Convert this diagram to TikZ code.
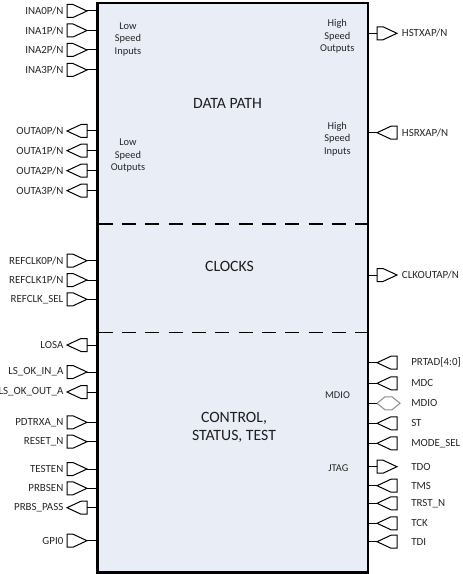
\documentclass[tikz,border=0pt]{standalone}
\usepackage{fontspec}
\setmainfont{Carlito}

\begin{document}
\begin{tikzpicture}[x=0.75pt,y=0.75pt,yscale=-1,xscale=1,
  chipbox/.style={draw=black,line width=2pt,fill={rgb,255:red,233;green,237;blue,246}},
  sepline/.style={line width=0.9pt,dash pattern=on 10.5pt off 7pt},
  pinshape/.style={draw=black,line width=0.75pt},
  pinline/.style={line width=0.75pt},
  lbl/.style={inner sep=0pt,text={rgb,255:red,38;green,38;blue,38},font=\fontsize{8.2}{10}\selectfont},
  sub/.style={inner sep=0pt,align=center,text={rgb,255:red,38;green,38;blue,38},font=\fontsize{7.8}{9.5}\selectfont},
  big/.style={inner sep=0pt,align=center,text={rgb,255:red,30;green,30;blue,30},font=\fontsize{11.8}{13.8}\selectfont},
  lbl sep/.store in=\lblsep, lbl sep=24.7,
  % pin pointing right, flat side on the left
  pics/lin/.style={code={
    \draw[pinshape] (0,-6.5) -- (6,-6.5) -- (20,0) -- (6,6.5) -- (0,6.5) -- cycle;
    \coordinate (-tip) at (20,0);
    \node[lbl,anchor=east] (-lbl) at (-3.4,0) {#1};}},
  % pin pointing left, flat side on the right
  pics/lout/.style={code={
    \draw[pinshape] (0,0) -- (14,-6.5) -- (20,-6.5) -- (20,6.5) -- (14,6.5) -- cycle;
    \coordinate (-tip) at (20,0);
    \node[lbl,anchor=east] (-lbl) at (-3.4,0) {#1};}},
  pics/rout/.style={code={
    \draw[pinshape] (0,-6.5) -- (6,-6.5) -- (20,0) -- (6,6.5) -- (0,6.5) -- cycle;
    \coordinate (-tip) at (0,0);
    \node[lbl,anchor=west] (-lbl) at (\lblsep,0) {#1};}},
  pics/rin/.style={code={
    \draw[pinshape] (0,0) -- (14,-6.5) -- (20,-6.5) -- (20,6.5) -- (14,6.5) -- cycle;
    \coordinate (-tip) at (0,0);
    \node[lbl,anchor=west] (-lbl) at (\lblsep,0) {#1};}},
  pics/rio/.style={code={
    \draw[pinshape,draw={rgb,255:red,140;green,140;blue,140}] (0,0) -- (8,-6.5) -- (15,-6.5) -- (23,0) -- (15,6.5) -- (8,6.5) -- cycle;
    \coordinate (-tip) at (0,0);
    \node[lbl,anchor=west] (-lbl) at (\lblsep,0) {#1};}}
]
\useasboundingbox (0,0) rectangle (462,574);

%Shape: Rectangle [id:chip]
\coordinate (chipNW) at (97.5,3);
\coordinate (chipSE) at (368,572.5);
\draw[chipbox] (chipNW) rectangle (chipSE);
%Straight Lines [id:dashed separators]
\coordinate (sep1) at (98.5,224);
\coordinate (sep2) at (98.5,332.5);
\draw[sepline] (sep1) -- (sep1 -| chipSE);
\draw[sepline] (sep2) -- (sep2 -| chipSE);

% Text Node
\node[big] (datapath) at (227.5,103.3) {DATA PATH};
% Text Node
\node[big] (clocks) at (229.5,266.7) {CLOCKS};
% Text Node
\node[big] (control) at (234,427.5) {CONTROL,\\STATUS, TEST};
% Text Node
\node[sub] (lsin) at (128,39.3) {Low\\Speed\\Inputs};
% Text Node
\node[sub] (lsout) at (128,155.7) {Low\\Speed\\Outputs};
% Text Node
\node[sub] (hsout) at (337.3,36.3) {High\\Speed\\Outputs};
% Text Node
\node[sub] (hsin) at (337.3,139) {High\\Speed\\Inputs};
% Text Node
\node[sub] (mdiotxt) at (337.5,395) {MDIO};
% Text Node
\node[sub] (jtagtxt) at (338.3,468.3) {JTAG};

%Left pins
\pic (ina0) at (67,11) {lin=INA0P/N};
\pic (ina1) at (67,30.5) {lin=INA1P/N};
\pic (ina2) at (67,50) {lin=INA2P/N};
\pic (ina3) at (67,70) {lin=INA3P/N};
\pic (outa0) at (67,131) {lout=OUTA0P/N};
\pic (outa1) at (67,150.7) {lout=OUTA1P/N};
\pic (outa2) at (67,170.7) {lout=OUTA2P/N};
\pic (outa3) at (67,190.7) {lout=OUTA3P/N};
\pic (refclk0) at (67,260.7) {lin=REFCLK0P/N};
\pic (refclk1) at (67,280) {lin=REFCLK1P/N};
\pic (refsel) at (67,299.3) {lin=REFCLK\_SEL};
\pic (losa) at (67,345) {lout=LOSA};
\pic (lsokin) at (67,372) {lin=LS\_OK\_IN\_A};
\pic (lsokout) at (67,392) {lout=LS\_OK\_OUT\_A};
\pic (pdtrx) at (67,422.3) {lin=PDTRXA\_N};
\pic (reset) at (67,441.7) {lin=RESET\_N};
\pic (testen) at (67,469) {lin=TESTEN};
\pic (prbsen) at (67,488.3) {lin=PRBSEN};
\pic (prbspass) at (67,507.7) {lout=PRBS\_PASS};
\pic (gpi) at (67,540.7) {lin=GPI0};
\foreach \p in {ina0,ina1,ina2,ina3,outa0,outa1,outa2,outa3,refclk0,refclk1,refsel,losa,lsokin,lsokout,pdtrx,reset,testen,prbsen,prbspass,gpi}
  \draw[pinline] (\p-tip) -- (\p-tip -| chipNW);

%Right pins
\pic (hstx) at (377,33.3) {rout=HSTXAP/N};
\pic (hsrx) at (377,132.7) {rin=HSRXAP/N};
\pic (clkout) at (377,275) {rout=CLKOUTAP/N};
\pic[lbl sep=34] (prtad) at (377,362.7) {rin=PRTAD[4:0]};
\pic[lbl sep=34] (mdc) at (377,383.3) {rin=MDC};
\pic[lbl sep=34] (mdio) at (377,403.3) {rio=MDIO};
\pic[lbl sep=34] (st) at (377,423.3) {rin=ST};
\pic[lbl sep=34] (modesel) at (377,443.3) {rin=MODE\_SEL};
\pic[lbl sep=34] (tdo) at (377,466.7) {rout=TDO};
\pic[lbl sep=34] (tms) at (377,485.7) {rin=TMS};
\pic[lbl sep=34] (trst) at (377,503.3) {rin=TRST\_N};
\pic[lbl sep=34] (tck) at (377,523.3) {rin=TCK};
\pic[lbl sep=34] (tdi) at (377,541.7) {rin=TDI};
\foreach \p in {hstx,hsrx,clkout,prtad,mdc,mdio,st,modesel,tdo,tms,trst,tck,tdi}
  \draw[pinline] (\p-tip) -- (\p-tip -| chipSE);

\end{tikzpicture}
\end{document}
